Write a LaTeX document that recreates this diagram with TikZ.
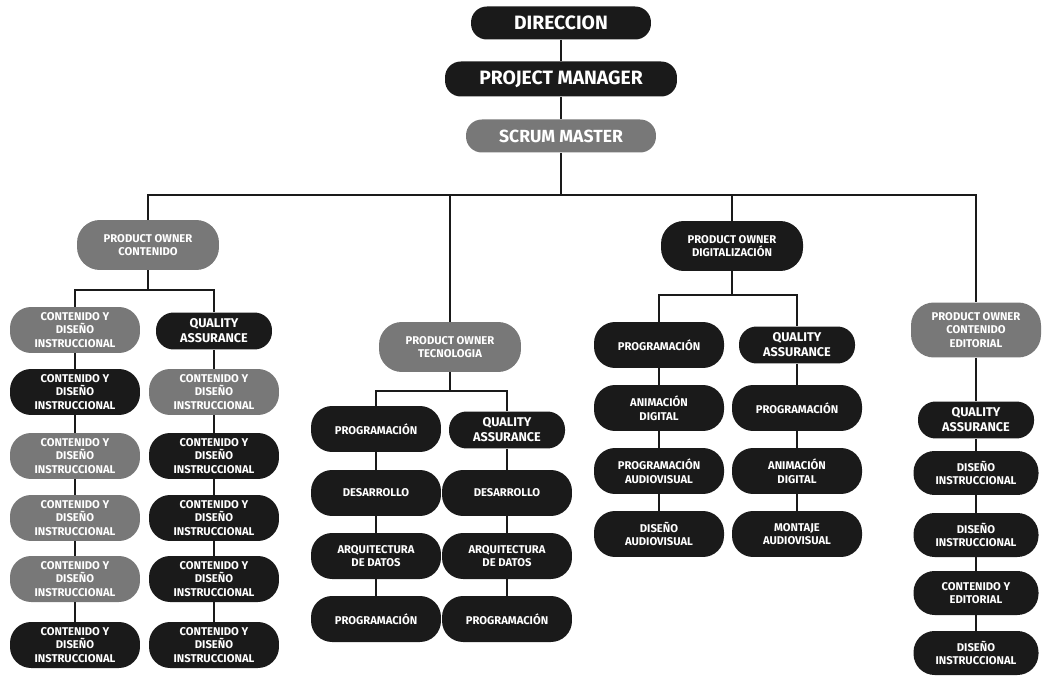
\documentclass[tikz,border=0pt]{standalone}
\usepackage{fontspec}
\setmainfont{Fira Sans}
\usetikzlibrary{calc,positioning}

\definecolor{pillblack}{RGB}{26,26,26}
\definecolor{pillgrey}{RGB}{120,120,120}

\tikzset{
  pill/.style={text=white, align=center, inner sep=1pt, font=\bfseries\fontsize{6.4}{7.8}\selectfont},
  blk/.style={pill, fill=pillblack},
  gry/.style={pill, fill=pillgrey},
  head/.style={minimum height=0.66cm, rounded corners=9pt, font=\bfseries\fontsize{11}{12}\selectfont},
  tall/.style={minimum width=2.6cm, minimum height=0.92cm, rounded corners=12pt},
  po/.style={minimum width=2.84cm, minimum height=1cm, rounded corners=13pt},
  qa/.style={minimum width=2.32cm, minimum height=0.74cm, rounded corners=10pt, font=\bfseries\fontsize{7.2}{8.6}\selectfont},
  link/.style={draw=pillblack, line width=0.8pt},
}

\begin{document}
\begin{tikzpicture}[x=0.02cm,y=-0.02cm]
  \useasboundingbox (0,0) rectangle (1043,685);

  % top of the chart
  \node[blk,head,minimum width=3.6cm] (dir) at (561,23) {DIRECCION};
  \node[blk,head,minimum width=4.64cm,minimum height=0.7cm] (pm) at (561,79) {PROJECT MANAGER};
  \node[gry,head,minimum width=3.8cm,font=\bfseries\fontsize{10}{11}\selectfont] (sm) at (561,136) {SCRUM MASTER};

  \node[gry,po] (pocont) at (148,245) {PRODUCT OWNER\\CONTENIDO};
  \node[gry,po] (potec) at (450,347) {PRODUCT OWNER\\TECNOLOGIA};
  \node[blk,po] (podig) at (732,246) {PRODUCT OWNER\\DIGITALIZACIÓN};
  \node[gry,po,minimum width=2.6cm,minimum height=1.1cm] (poedit) at (976,330) {PRODUCT OWNER\\CONTENIDO\\EDITORIAL};

  \coordinate (bus) at (561,195);
  \draw[link] (dir) -- (pm);
  \draw[link] (pm) -- (sm);
  \draw[link] (sm) -- (sm |- bus);
  \draw[link] (pocont.north) |- (poedit.north |- bus) -- (poedit.north);
  \draw[link] (potec.north) -- (potec.north |- bus);
  \draw[link] (podig.north) -- (podig.north |- bus);

  % contenido
  \foreach \y/\c [count=\i] in {330/gry,392/blk,456/gry,518/gry,579/gry,645/blk}
    \node[\c,tall] (ca\i) at (75,\y) {CONTENIDO Y\\DISEÑO\\INSTRUCCIONAL};
  \node[blk,qa] (cb1) at (214,331) {QUALITY\\ASSURANCE};
  \foreach \y/\c [count=\i from 2] in {392/gry,456/blk,518/blk,579/blk,645/blk}
    \node[\c,tall] (cb\i) at (214,\y) {CONTENIDO Y\\DISEÑO\\INSTRUCCIONAL};

  \coordinate (bc) at (148,290);
  \draw[link] (pocont) -- (pocont |- bc);
  \draw[link] (ca1.north) |- (cb1.north |- bc) -- (cb1.north);
  \foreach \i/\j in {1/2,2/3,3/4,4/5,5/6} {
    \draw[link] (ca\i) -- (ca\j);
    \draw[link] (cb\i) -- (cb\j);
  }

  % tecnologia
  \node[blk,tall] (ta1) at (376,429) {PROGRAMACIÓN};
  \node[blk,tall] (ta2) at (376,493) {DESARROLLO};
  \node[blk,tall] (ta3) at (376,556) {ARQUITECTURA\\DE DATOS};
  \node[blk,tall] (ta4) at (376,619) {PROGRAMACIÓN};
  \node[blk,qa] (tb1) at (507,430) {QUALITY\\ASSURANCE};
  \node[blk,tall] (tb2) at (507,493) {DESARROLLO};
  \node[blk,tall] (tb3) at (507,556) {ARQUITECTURA\\DE DATOS};
  \node[blk,tall] (tb4) at (507,619) {PROGRAMACIÓN};

  \coordinate (bt) at (450,391);
  \draw[link] (potec) -- (potec |- bt);
  \draw[link] (ta1.north) |- (tb1.north |- bt) -- (tb1.north);
  \foreach \i/\j in {1/2,2/3,3/4} {
    \draw[link] (ta\i) -- (ta\j);
    \draw[link] (tb\i) -- (tb\j);
  }

  % digitalizacion
  \node[blk,tall] (da1) at (659,345) {PROGRAMACIÓN};
  \node[blk,tall] (da2) at (659,408) {ANIMACIÓN\\DIGITAL};
  \node[blk,tall] (da3) at (659,471) {PROGRAMACIÓN\\AUDIOVISUAL};
  \node[blk,tall] (da4) at (659,534) {DISEÑO\\AUDIOVISUAL};
  \node[blk,qa] (db1) at (797,345) {QUALITY\\ASSURANCE};
  \node[blk,tall] (db2) at (797,408) {PROGRAMACIÓN};
  \node[blk,tall] (db3) at (797,471) {ANIMACIÓN\\DIGITAL};
  \node[blk,tall] (db4) at (797,534) {MONTAJE\\AUDIOVISUAL};

  \coordinate (bd) at (732,295);
  \draw[link] (podig) -- (podig |- bd);
  \draw[link] (da1.north) |- (db1.north |- bd) -- (db1.north);
  \foreach \i/\j in {1/2,2/3,3/4} {
    \draw[link] (da\i) -- (da\j);
    \draw[link] (db\i) -- (db\j);
  }

  % editorial
  \node[blk,qa] (e1) at (976,420) {QUALITY\\ASSURANCE};
  \node[blk,tall,minimum width=2.5cm,minimum height=0.88cm] (e2) at (976,473) {DISEÑO\\INSTRUCCIONAL};
  \node[blk,tall,minimum width=2.5cm,minimum height=0.88cm] (e3) at (976,535) {DISEÑO\\INSTRUCCIONAL};
  \node[blk,tall,minimum width=2.5cm,minimum height=0.88cm] (e4) at (976,593) {CONTENIDO Y\\EDITORIAL};
  \node[blk,tall,minimum width=2.5cm,minimum height=0.88cm] (e5) at (976,653) {DISEÑO\\INSTRUCCIONAL};

  \draw[link] (poedit) -- (e1);
  \foreach \i/\j in {1/2,2/3,3/4,4/5}
    \draw[link] (e\i) -- (e\j);
\end{tikzpicture}
\end{document}
